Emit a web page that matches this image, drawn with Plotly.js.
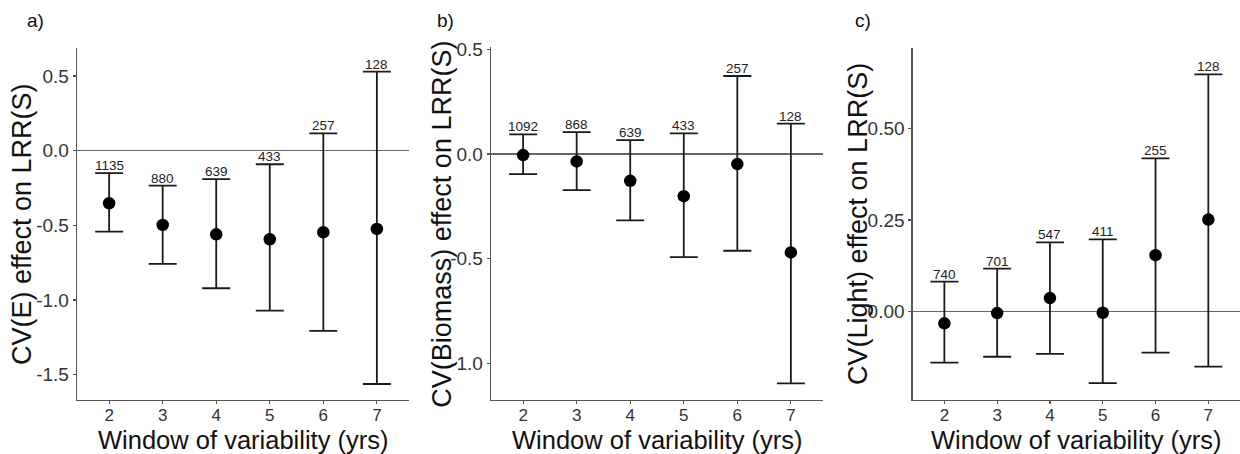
<!DOCTYPE html>
<html>
<head>
<meta charset="utf-8">
<script src="https://cdn.plot.ly/plotly-3.0.1.min.js"></script>
<style>html,body{margin:0;padding:0;background:#fff;}#chart{width:1240px;height:454px;}</style>
</head>
<body>
<div id="chart"></div>
<script>
// Window of variability (years)
const windows = [2, 3, 4, 5, 6, 7];

// Panel a) CV(E)
const estE = [-0.352, -0.497, -0.560, -0.593, -0.546, -0.524];
const lowE = [-0.542, -0.758, -0.921, -1.071, -1.207, -1.562];
const upE  = [-0.151, -0.234, -0.191, -0.091, 0.116, 0.529];
const nE   = ['1135', '880', '639', '433', '257', '128'];

// Panel b) CV(Biomass)
const estB = [-0.005, -0.035, -0.128, -0.201, -0.048, -0.470];
const lowB = [-0.096, -0.172, -0.317, -0.492, -0.462, -1.096];
const upB  = [0.094, 0.105, 0.067, 0.099, 0.373, 0.145];
const nB   = ['1092', '868', '639', '433', '257', '128'];

// Panel c) CV(Light)
const estL = [-0.032, -0.004, 0.037, -0.003, 0.154, 0.251];
const lowL = [-0.139, -0.123, -0.115, -0.195, -0.112, -0.150];
const upL  = [0.082, 0.117, 0.189, 0.197, 0.418, 0.647];
const nL   = ['740', '701', '547', '411', '255', '128'];

const yTitles = ['CV(E) effect on LRR(S)', 'CV(Biomass) effect on LRR(S)', 'CV(Light) effect on LRR(S)'];
const xTitle = 'Window of variability (yrs)';
const panelLetters = ['a)', 'b)', 'c)'];
const yTicks = [[-1.5, -1.0, -0.5, 0.0, 0.5], [-1.0, -0.5, 0.0, 0.5], [0.0, 0.25, 0.5]];
const yTickText = [['-1.5', '-1.0', '-0.5', '0.0', '0.5'], ['-1.0', '-0.5', '0.0', '0.5'], ['0.00', '0.25', '0.50']];

const W = 1240, H = 454;
const panels = [
  {est: estE, low: lowE, up: upE, n: nE, xd: [77, 409], yd: [48, 400], yr: [-1.669, 0.687], titleX: 22, xTitleX: 243, letterX: 25},
  {est: estB, low: lowB, up: upB, n: nB, xd: [491, 823], yd: [46.7, 400], yr: [-1.175, 0.513], titleX: 441.7, xTitleX: 657, letterX: 435},
  {est: estL, low: lowL, up: upL, n: nL, xd: [912.7, 1240], yd: [48.3, 400], yr: [-0.241, 0.718], titleX: 858, xTitleX: 1076, letterX: 853}
];

const font = 'Liberation Sans, Arial, sans-serif';
const traces = [];
const layout = {
  width: W, height: H,
  margin: {l: 0, r: 0, t: 0, b: 0},
  paper_bgcolor: '#ffffff', plot_bgcolor: '#ffffff',
  showlegend: false,
  font: {family: font, color: '#000'},
  annotations: []
};

panels.forEach((p, i) => {
  const s = i === 0 ? '' : String(i + 1);
  traces.push({
    type: 'scatter', mode: 'markers',
    x: windows, y: p.est,
    xaxis: 'x' + s, yaxis: 'y' + s,
    marker: {size: 12.5, color: '#000'},
    error_y: {
      type: 'data', symmetric: false,
      array: p.up.map((u, k) => u - p.est[k]),
      arrayminus: p.est.map((e, k) => e - p.low[k]),
      color: '#1a1a1a', thickness: 1.8, width: 14
    },
    hoverinfo: 'x+y'
  });
  layout['xaxis' + s] = {
    domain: [p.xd[0] / W, p.xd[1] / W],
    range: [1.4, 7.6],
    anchor: 'y' + s,
    tickvals: windows, ticktext: windows.map(String),
    showgrid: false, zeroline: false,
    showline: true, linecolor: '#555', linewidth: 1.3,
    ticks: 'outside', ticklen: 3, tickcolor: '#555', tickwidth: 1.2,
    ticklabelstandoff: -4,
    tickfont: {size: 17, color: '#333', family: font},
    fixedrange: true
  };
  layout['yaxis' + s] = {
    domain: [(H - p.yd[1]) / H, (H - p.yd[0]) / H],
    range: p.yr,
    anchor: 'x' + s,
    tickvals: yTicks[i], ticktext: yTickText[i],
    showgrid: false,
    zeroline: true, zerolinecolor: '#666', zerolinewidth: 1.3,
    showline: true, linecolor: '#555', linewidth: 1.3,
    ticks: 'outside', ticklen: 3, tickcolor: '#555', tickwidth: 1.2,
    tickfont: {size: 19, color: '#333', family: font},
    fixedrange: true
  };
  // sample-size labels above upper caps
  windows.forEach((w, k) => {
    layout.annotations.push({
      x: w, y: p.up[k], xref: 'x' + s, yref: 'y' + s,
      text: p.n[k], showarrow: false,
      xanchor: 'center', yanchor: 'bottom', yshift: -2,
      font: {size: 13.5, color: '#222', family: font}
    });
  });
  // y-axis title
  layout.annotations.push({
    x: p.titleX / W, y: (H - 224) / H, xref: 'paper', yref: 'paper',
    text: yTitles[i], showarrow: false, textangle: -90,
    xanchor: 'center', yanchor: 'middle',
    font: {size: 27, color: '#111', family: font}
  });
  // x-axis title
  layout.annotations.push({
    x: p.xTitleX / W, y: (H - 440) / H, xref: 'paper', yref: 'paper',
    text: xTitle, showarrow: false,
    xanchor: 'center', yanchor: 'middle',
    font: {size: 25.5, color: '#111', family: font}
  });
  // panel letter
  layout.annotations.push({
    x: p.letterX / W, y: (H - 20) / H, xref: 'paper', yref: 'paper',
    text: panelLetters[i], showarrow: false,
    xanchor: 'left', yanchor: 'middle',
    font: {size: 19, color: '#111', family: font}
  });
});

Plotly.newPlot('chart', traces, layout, {displayModeBar: false, staticPlot: true});
</script>
</body>
</html>
